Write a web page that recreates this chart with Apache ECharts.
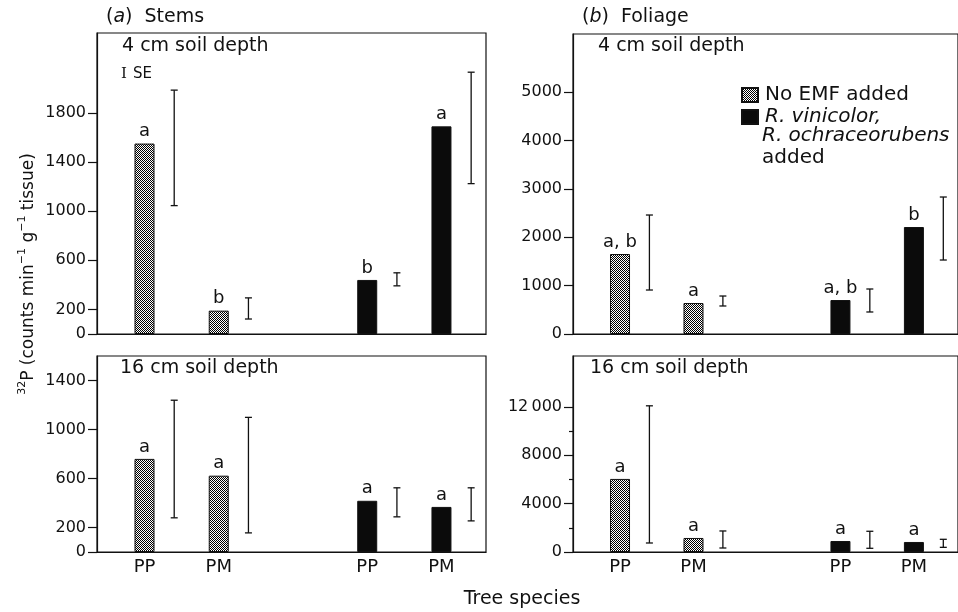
<!DOCTYPE html>
<html><head><meta charset="utf-8">
<script src="https://cdn.jsdelivr.net/npm/echarts@6/dist/echarts.min.js"></script>
<style>html,body{margin:0;padding:0;background:#fff}#c{width:958px;height:612px}</style>
</head><body><div id="c"></div><script>
// ---- data ----
const categories = ['PP', 'PM', 'PP', 'PM'];
const treatments = ['No EMF added', 'R. vinicolor, R. ochraceorubens added'];
const treatmentOfBar = [0, 0, 1, 1];

const stems4 = [1550, 190, 440, 1690];
const stems4Low = [1045, 122, 392, 1224];
const stems4High = [1985, 294, 498, 2131];
const stems4Letters = ['a', 'b', 'b', 'a'];

const stems16 = [760, 623, 418, 368];
const stems16Low = [279, 156, 287, 254];
const stems16High = [1239, 1099, 524, 524];
const stems16Letters = ['a', 'a', 'a', 'a'];

const foliage4 = [1653, 640, 702, 2211];
const foliage4Low = [909, 579, 455, 1529];
const foliage4High = [2459, 785, 930, 2831];
const foliage4Letters = ['a, b', 'a', 'a, b', 'b'];

const foliage16 = [6040, 1159, 910, 828];
const foliage16Low = [745, 331, 306, 386];
const foliage16High = [12083, 1738, 1713, 1049];
const foliage16Letters = ['a', 'a', 'a', 'a'];

const stemTicks4 = [0, 200, 600, 1000, 1400, 1800];
const stemTicks16 = [0, 200, 600, 1000, 1400];
const foliageTicks4 = [0, 1000, 2000, 3000, 4000, 5000];
const foliageTicks16 = [0, 4000, 8000, 12000];
const foliageMinorTicks16 = [2000, 6000, 10000];

// ---- layout ----
const slots = [1, 2, 4, 5];
const ERR_OFF = 0.4;
const FONT = 'DejaVu Sans';
const INK = '#111';

const pc = document.createElement('canvas');
pc.width = 4; pc.height = 4;
const g = pc.getContext('2d');
g.fillStyle = '#fff'; g.fillRect(0, 0, 4, 4);
g.fillStyle = '#000';
for (let y = 0; y < 4; y++) for (let x = 0; x < 4; x++) if ((x + y) % 2 === 0) g.fillRect(x, y, 1, 1);
const stipple = { image: pc, repeat: 'repeat' };

const panels = [
  { vals: stems4, lo: stems4Low, hi: stems4High, letters: stems4Letters, max: 2450, ticks: stemTicks4, grid: { left: 97, top: 33, width: 389, height: 301 }, xlab: false },
  { vals: stems16, lo: stems16Low, hi: stems16High, letters: stems16Letters, max: 1600, ticks: stemTicks16, grid: { left: 97, top: 356, width: 389, height: 196 }, xlab: true },
  { vals: foliage4, lo: foliage4Low, hi: foliage4High, letters: foliage4Letters, max: 6200, ticks: foliageTicks4, grid: { left: 573, top: 34, width: 389, height: 300 }, xlab: false },
  { vals: foliage16, lo: foliage16Low, hi: foliage16High, letters: foliage16Letters, max: 16200, ticks: foliageTicks16, grid: { left: 573, top: 356, width: 389, height: 196 }, xlab: true }
];

const grids = [], xAxes = [], yAxes = [], series = [];
panels.forEach((p, gi) => {
  grids.push(Object.assign({ show: true, borderColor: INK, borderWidth: 1.2, backgroundColor: 'transparent' }, p.grid));
  xAxes.push({
    type: 'value', gridIndex: gi, min: 0.36, max: 5.6,
    splitLine: { show: false }, axisTick: { show: false },
    axisLine: { show: true, onZero: false, lineStyle: { color: INK, width: 1.2 } },
    axisLabel: {
      show: p.xlab, customValues: slots, margin: 6,
      formatter: v => categories[slots.indexOf(v)] || '',
      fontFamily: FONT, fontSize: 18, color: INK
    }
  });
  yAxes.push({
    type: 'value', gridIndex: gi, min: 0, max: p.max,
    splitLine: { show: false },
    axisLine: { show: true, lineStyle: { color: INK, width: 1.2 } },
    axisTick: { show: true, customValues: p.ticks, length: 9, lineStyle: { color: INK, width: 1.2 } },
    axisLabel: {
      customValues: p.ticks, margin: 11, fontFamily: FONT, fontSize: 16, color: INK,
      formatter: v => v >= 10000 ? String(v).replace(/(\d)(\d{3})$/, '$1\u2009$2') : String(v)
    }
  });
  [0, 1].forEach(t => {
    const idx = [0, 1, 2, 3].filter(i => treatmentOfBar[i] === t);
    series.push({
      type: 'bar', name: treatments[t], xAxisIndex: gi, yAxisIndex: gi,
      barWidth: 20, barGap: '-100%',
      data: idx.map(i => [slots[i], p.vals[i]]),
      itemStyle: t === 0 ? { color: stipple, borderColor: INK, borderWidth: 1 } : { color: '#0b0b0b', borderColor: INK, borderWidth: 1 },
      label: {
        show: true, position: 'top', distance: 3,
        formatter: q => p.letters[idx[q.dataIndex]],
        fontFamily: FONT, fontSize: 18, color: INK
      },
      silent: true, animation: false
    });
  });
  series.push({
    type: 'custom', xAxisIndex: gi, yAxisIndex: gi, silent: true, animation: false, z: 5,
    data: p.lo.map((l, i) => [slots[i] + ERR_OFF, l, p.hi[i]]),
    encode: { x: 0, y: [1, 2] },
    renderItem: (params, api) => {
      const x = api.value(0);
      const a = api.coord([x, api.value(1)]);
      const b = api.coord([x, api.value(2)]);
      const c = 3.5;
      const st = { stroke: INK, lineWidth: 1.3 };
      return {
        type: 'group', children: [
          { type: 'line', shape: { x1: a[0], y1: a[1], x2: b[0], y2: b[1] }, style: st },
          { type: 'line', shape: { x1: a[0] - c, y1: a[1], x2: a[0] + c, y2: a[1] }, style: st },
          { type: 'line', shape: { x1: b[0] - c, y1: b[1], x2: b[0] + c, y2: b[1] }, style: st }
        ]
      };
    }
  });
});
// minor ticks for foliage 16 cm panel
yAxes.push({
  type: 'value', gridIndex: 3, min: 0, max: 16200, position: 'left',
  splitLine: { show: false }, axisLine: { show: false }, axisLabel: { show: false },
  axisTick: { show: true, customValues: foliageMinorTicks16, length: 4, lineStyle: { color: INK, width: 1.2 } }
});

const txt = (x, y, text, extra) => ({
  type: 'text', x, y, silent: true,
  style: Object.assign({ text, fill: INK, font: '19px "' + FONT + '"', align: 'left', verticalAlign: 'middle' }, extra || {})
});

const option = {
  backgroundColor: '#fff',
  animation: false,
  grid: grids, xAxis: xAxes, yAxis: yAxes, series,
  legend: {
    data: treatments, left: 736, top: 79, orient: 'vertical', icon: 'rect',
    itemWidth: 16, itemHeight: 14, itemGap: 0, selectedMode: false,
    textStyle: { fontFamily: FONT, fontSize: 20, color: INK, lineHeight: 22, padding: [0, 0, 0, 2],
      rich: { i: { fontFamily: FONT, fontSize: 20, fontStyle: 'italic', color: INK, lineHeight: 22 } } },
    formatter: name => name === treatments[0] ? name : '{i|R. vinicolor,}'
  },
  graphic: [
    txt(106, 17, '({i|a})  Stems', { rich: { i: { fontStyle: 'italic', font: 'italic 19px "' + FONT + '"' } } }),
    txt(582, 17, '({i|b})  Foliage', { rich: { i: { fontStyle: 'italic', font: 'italic 19px "' + FONT + '"' } } }),
    txt(122, 46, '4 cm soil depth'),
    txt(598, 46, '4 cm soil depth'),
    txt(120, 368, '16 cm soil depth'),
    txt(590, 368, '16 cm soil depth'),
    txt(121, 74, '{s|I} {t|SE}', { rich: { s: { font: '15px "DejaVu Serif"', fill: INK }, t: { font: '15px "' + FONT + '"', fill: INK } } }),
    txt(762, 147, '{i|R. ochraceorubens}\n{n|added}', {
      lineHeight: 22,
      rich: { i: { font: 'italic 20px "' + FONT + '"', fill: INK, lineHeight: 22 }, n: { font: '20px "' + FONT + '"', fill: INK, lineHeight: 22 } }
    }),
    txt(522, 599, 'Tree species', { align: 'center' }),
    {
      type: 'text', x: 27, y: 274, rotation: Math.PI / 2, silent: true,
      style: {
        text: '{s|32}{n|P (counts min}{s|−1}{n| g}{s|−1}{n| tissue)}',
        align: 'center', verticalAlign: 'middle', fill: INK,
        rich: {
          n: { font: '17px "' + FONT + '"', fill: INK, lineHeight: 21, verticalAlign: 'bottom' },
          s: { font: '11px "' + FONT + '"', fill: INK, lineHeight: 21, verticalAlign: 'top' }
        }
      }
    }
  ]
};
const chart = echarts.init(document.getElementById('c'), null, { renderer: 'canvas' });
chart.setOption(option);
</script></body></html>
